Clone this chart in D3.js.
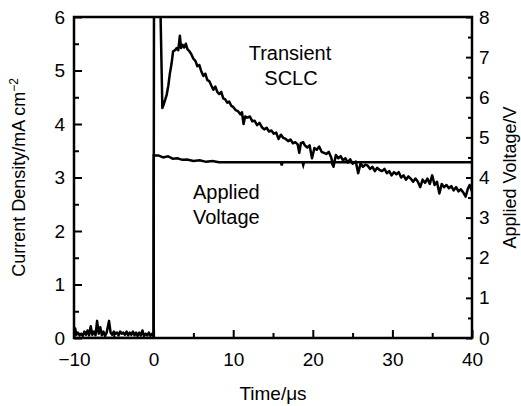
<!DOCTYPE html>
<html>
<head>
<meta charset="utf-8">
<script src="https://cdn.jsdelivr.net/npm/d3@7"></script>
<style>
  body { margin: 0; background: #fff; }
  text { font-family: "Liberation Sans", Arial, sans-serif; fill: #000; }
</style>
</head>
<body>
<div id="chart"></div>
<script>
// current density (mA cm^-2) vs time (us)
const currentPre = [
  [-10,0.04],[-9.85,0.18],[-9.7,0.06],[-9.5,0.1],[-9.3,0.05],[-9.1,0.08],[-8.9,0.04],[-8.7,0.12],
  [-8.5,0.06],[-8.3,0.14],[-8.1,0.05],[-7.9,0.22],[-7.7,0.06],[-7.5,0.12],[-7.3,0.05],[-7.1,0.32],
  [-6.9,0.08],[-6.7,0.2],[-6.5,0.05],[-6.3,0.12],[-6.1,0.04],[-5.9,0.1],[-5.6,0.32],[-5.4,0.1],
  [-5.2,0.06],[-5.0,0.12],[-4.8,0.08],[-4.6,0.1],[-4.4,0.05],[-4.2,0.12],[-4.0,0.08],[-3.8,0.1],
  [-3.6,0.06],[-3.4,0.12],[-3.2,0.05],[-3.0,0.1],[-2.8,0.06],[-2.6,0.12],[-2.4,0.05],[-2.2,0.1],
  [-2.0,0.04],[-1.8,0.1],[-1.6,0.05],[-1.4,0.14],[-1.2,0.04],[-1.0,0.08],[-0.8,0.05],[-0.6,0.1],
  [-0.4,0.04],[-0.2,0.08],[0,0.04]
];
const currentPost = [
  [0.05,6.6],[0.8,6.6],[1.1,4.3],[1.25,4.36],[1.45,4.45],[1.65,4.55],[1.85,4.72],[2.05,4.95],
  [2.25,5.12],[2.45,5.36],[2.7,5.38],[2.9,5.42],[3.1,5.38],[3.3,5.65],[3.45,5.42],[3.65,5.48],
  [3.85,5.43],[4.05,5.5],[4.25,5.4],[4.5,5.36],[4.75,5.3],[5.0,5.22],[5.25,5.18],[5.5,5.08],
  [5.75,5.1],[6.0,4.98],[6.25,4.9],[6.5,4.94],[6.75,4.82],[7.0,4.8],[7.25,4.72],[7.5,4.64],
  [7.75,4.7],[8.0,4.6],[8.25,4.56],[8.5,4.6],[8.75,4.48],[9.0,4.46],[9.25,4.4],[9.5,4.42],
  [9.75,4.34],[10.0,4.32],[10.3,4.26],[10.6,4.24],[10.9,4.18],[11.1,4.22],[11.3,4.0],[11.5,4.14],
  [11.8,4.12],[12.1,4.14],[12.4,4.05],[12.7,4.06],[13.0,3.98],[13.3,4.02],[13.6,3.94],[13.9,3.9],
  [14.2,3.93],[14.5,3.86],[14.8,3.88],[15.1,3.82],[15.4,3.84],[15.7,3.72],[16.0,3.8],[16.3,3.74],
  [16.6,3.72],[16.9,3.68],[17.2,3.71],[17.5,3.64],[17.8,3.66],[18.1,3.62],[18.3,3.46],[18.5,3.64],
  [18.8,3.66],[19.0,3.6],[19.3,3.56],[19.6,3.6],[19.9,3.36],[20.2,3.55],[20.5,3.52],[20.8,3.58],
  [21.1,3.48],[21.4,3.46],[21.7,3.44],[22.0,3.48],[22.3,3.38],[22.6,3.2],[22.9,3.42],[23.2,3.36],
  [23.5,3.4],[23.8,3.32],[24.1,3.36],[24.4,3.28],[24.7,3.34],[25.0,3.26],[25.4,3.3],[25.7,3.08],
  [26.0,3.26],[26.3,3.2],[26.6,3.24],[26.9,3.22],[27.2,3.16],[27.5,3.2],[27.8,3.12],[28.1,3.18],
  [28.4,3.14],[28.7,3.12],[29.0,3.16],[29.3,3.08],[29.6,3.12],[29.9,3.04],[30.2,3.1],[30.5,3.06],
  [30.8,3.1],[31.1,3.0],[31.4,3.04],[31.7,2.96],[32.0,3.02],[32.3,2.98],[32.6,2.92],[32.9,2.98],
  [33.2,2.92],[33.5,2.82],[33.8,2.96],[34.1,2.9],[34.4,2.98],[34.7,2.88],[35.0,3.04],[35.3,2.86],
  [35.6,2.92],[35.9,2.7],[36.2,2.88],[36.5,2.82],[36.8,2.86],[37.1,2.8],[37.4,2.84],[37.7,2.76],
  [38.0,2.82],[38.3,2.74],[38.6,2.78],[38.9,2.72],[39.2,2.64],[39.5,2.8],[39.7,2.86],[40.0,2.74]
];
// applied voltage (V) vs time (us)
const voltage = [
  [-10,0],[0,0],[0.02,4.55],[0.6,4.55],[1.2,4.5],[1.8,4.53],[2.4,4.47],[3.0,4.48],[3.6,4.44],
  [4.2,4.45],[5.0,4.41],[5.8,4.43],[6.6,4.39],[7.4,4.41],[8.2,4.38],[10,4.38],[16.0,4.38],
  [16.1,4.3],[16.2,4.38],[18.7,4.38],[18.8,4.31],[18.9,4.38],[22.4,4.38],[22.5,4.3],[22.6,4.38],
  [40,4.38]
];

const xMajor = [-10, 0, 10, 20, 30, 40];
const xMinor = [-5, 5, 15, 25, 35];
const yLeftMajor = [0, 1, 2, 3, 4, 5, 6];
const yLeftMinor = [0.5, 1.5, 2.5, 3.5, 4.5, 5.5];
const yRightMajor = [0, 1, 2, 3, 4, 5, 6, 7, 8];
const yRightMinor = [0.5, 1.5, 2.5, 3.5, 4.5, 5.5, 6.5, 7.5];

const width = 521, height = 406;
const margin = { top: 17, right: 49, bottom: 68, left: 74 };
const innerW = width - margin.left - margin.right;
const innerH = height - margin.top - margin.bottom;

const svg = d3.select("#chart").append("svg")
  .attr("width", width)
  .attr("height", height);

const g = svg.append("g").attr("transform", `translate(${margin.left},${margin.top})`);

const x = d3.scaleLinear().domain([-10, 40]).range([0, innerW]);
const yL = d3.scaleLinear().domain([0, 6]).range([innerH, 0]);
const yR = d3.scaleLinear().domain([0, 8]).range([innerH, 0]);

g.append("clipPath").attr("id", "clip")
  .append("rect").attr("width", innerW).attr("height", innerH);

const fmt = d => d < 0 ? "\u2212" + Math.abs(d) : String(d);

// axes: ticks point inward
function styleAxis(sel) {
  sel.select(".domain").remove();
  sel.selectAll(".tick line").attr("stroke", "#000").attr("stroke-width", 2);
  sel.selectAll(".tick text").style("font-size", "19px").attr("fill", "#000");
}

g.append("g").attr("transform", `translate(0,${innerH})`)
  .call(d3.axisBottom(x).tickValues(xMajor).tickSizeInner(-8).tickSizeOuter(0).tickPadding(15)
    .tickFormat(fmt))
  .call(styleAxis);
g.append("g").attr("transform", `translate(0,${innerH})`)
  .call(d3.axisBottom(x).tickValues(xMinor).tickSizeInner(-5).tickSizeOuter(0).tickFormat(""))
  .call(styleAxis);

g.append("g")
  .call(d3.axisLeft(yL).tickValues(yLeftMajor).tickSizeInner(-8).tickSizeOuter(0).tickPadding(9)
    .tickFormat(fmt))
  .call(styleAxis);
g.append("g")
  .call(d3.axisLeft(yL).tickValues(yLeftMinor).tickSizeInner(-5).tickSizeOuter(0).tickFormat(""))
  .call(styleAxis);

g.append("g").attr("transform", `translate(${innerW},0)`)
  .call(d3.axisRight(yR).tickValues(yRightMajor).tickSizeInner(-6).tickSizeOuter(0).tickPadding(7)
    .tickFormat(fmt))
  .call(styleAxis);
g.append("g").attr("transform", `translate(${innerW},0)`)
  .call(d3.axisRight(yR).tickValues(yRightMinor).tickSizeInner(-4).tickSizeOuter(0).tickFormat(""))
  .call(styleAxis);

// frame
g.append("rect")
  .attr("width", innerW).attr("height", innerH)
  .attr("fill", "none").attr("stroke", "#000").attr("stroke-width", 2.5);

const lineL = d3.line().x(d => x(d[0])).y(d => yL(d[1]));
const lineR = d3.line().x(d => x(d[0])).y(d => yR(d[1]));

const plot = g.append("g").attr("clip-path", "url(#clip)");

plot.append("path")
  .datum(voltage)
  .attr("d", lineR)
  .attr("fill", "none").attr("stroke", "#000").attr("stroke-width", 2.5);

plot.append("path")
  .datum(currentPre.concat(currentPost))
  .attr("d", lineL)
  .attr("fill", "none").attr("stroke", "#000").attr("stroke-width", 2.5)
  .attr("stroke-linejoin", "round");

// annotations
g.append("text").attr("x", 216).attr("y", 43).attr("text-anchor", "middle")
  .style("font-size", "20px").text("Transient");
g.append("text").attr("x", 217).attr("y", 68).attr("text-anchor", "middle")
  .style("font-size", "20px").text("SCLC");
g.append("text").attr("x", 119).attr("y", 182)
  .style("font-size", "20px").text("Applied");
g.append("text").attr("x", 119).attr("y", 207)
  .style("font-size", "20px").text("Voltage");

// axis titles
svg.append("text")
  .attr("x", margin.left + innerW / 2).attr("y", 400)
  .attr("text-anchor", "middle").style("font-size", "19px")
  .text("Time/\u03bcs");

const yTitle = svg.append("text")
  .attr("transform", `translate(25,${margin.top + innerH / 2}) rotate(-90)`)
  .attr("text-anchor", "middle").style("font-size", "18px");
yTitle.append("tspan").text("Current Density/mA cm");
yTitle.append("tspan").attr("dy", -7).style("font-size", "12px").text("\u22122");

svg.append("text")
  .attr("transform", `translate(516,${margin.top + innerH / 2}) rotate(-90)`)
  .attr("text-anchor", "middle").style("font-size", "18px")
  .text("Applied Voltage/V");
</script>
</body>
</html>
